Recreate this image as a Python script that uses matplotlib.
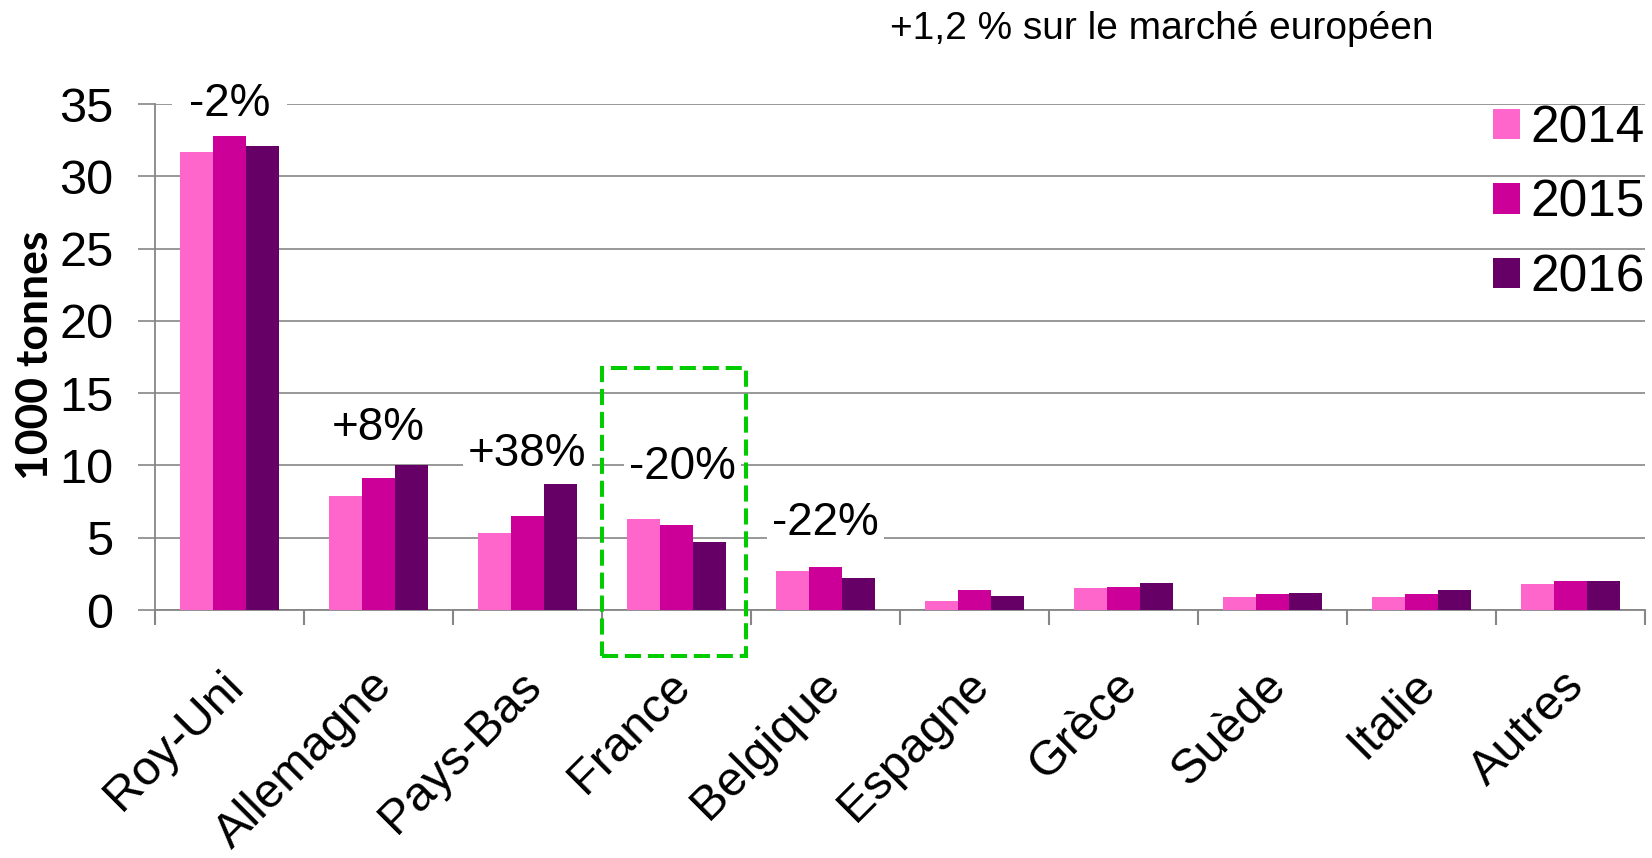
import numpy as np
import matplotlib
matplotlib.use("Agg")
import matplotlib.pyplot as plt
from matplotlib.patches import Rectangle
from matplotlib.transforms import ScaledTranslation

plt.rcParams['font.family'] = ['Liberation Sans', 'DejaVu Sans']

# donnees (1000 tonnes)
pays = ["Roy-Uni", "Allemagne", "Pays-Bas", "France", "Belgique",
        "Espagne", "Grèce", "Suède", "Italie", "Autres"]
annees = ["2014", "2015", "2016"]
v2014 = [31.7, 7.9, 5.3, 6.3, 2.7, 0.6, 1.5, 0.9, 0.9, 1.8]
v2015 = [32.8, 9.1, 6.5, 5.9, 3.0, 1.4, 1.6, 1.1, 1.1, 2.0]
v2016 = [32.1, 10.0, 8.7, 4.7, 2.2, 1.0, 1.9, 1.2, 1.4, 2.0]
evol = ["-2%", "+8%", "+38%", "-20%", "-22%"]
evol_y = [35.0, 12.6, 10.8, 9.9, 6.0]
couleurs = ["#FF66CC", "#CC0099", "#660066"]
gris = "#868686"

fig = plt.figure(figsize=(16.52, 8.58), dpi=100)
ax = fig.add_axes([0.0938, 0.289, 0.902, 0.5897])

x = np.arange(len(pays))
w = 0.221
for k, (vals, c, lab) in enumerate(zip([v2014, v2015, v2016], couleurs, annees)):
    ax.bar(x + (k - 1) * w, vals, width=w, color=c, label=lab, zorder=3)

ax.set_xlim(-0.5, len(pays) - 0.5)
ax.set_ylim(0, 35)
ax.set_yticks(np.arange(0, 36, 5))
ax.yaxis.grid(True, color=gris, linewidth=1.2, zorder=0)
for s in ["top", "right"]:
    ax.spines[s].set_visible(False)
for s in ["left", "bottom"]:
    ax.spines[s].set_color(gris)
    ax.spines[s].set_linewidth(1.3)

ax.tick_params(axis="y", length=12, width=1.2, color=gris, labelsize=35, pad=18)
ax.set_xticks(x)
ax.set_xticklabels(pays, rotation=45, ha="right", rotation_mode="anchor", fontsize=35)
ax.tick_params(axis="x", which="major", length=0, pad=38)
ax.set_xticks(np.arange(-0.5, len(pays)), minor=True)
ax.tick_params(axis="x", which="minor", length=11, width=1.5, color=gris)
off = ScaledTranslation(-0.09, 0, fig.dpi_scale_trans)
for t in ax.get_xticklabels():
    t.set_transform(t.get_transform() + off)

# evolutions (boite blanche qui masque la grille, sous les barres)
for i, (txt, yy) in enumerate(zip(evol, evol_y)):
    dx = 0.04 if i == 3 else 0
    p = 12 if i == 0 else 4
    ax.text(i + dx, yy, txt, ha="center", va="center", fontsize=33, zorder=2,
            bbox=dict(facecolor="white", edgecolor="none", pad=p))

# cadre France
i_fr = pays.index("France")
ax.add_patch(Rectangle((i_fr - 0.503, -3.15), 0.97, 19.9, fill=False,
                       edgecolor="#00CC00", linewidth=2.9,
                       linestyle=(0, (4, 1.7)), clip_on=False, zorder=6))

leg = ax.legend(loc="upper right", bbox_to_anchor=(1.0, 1.0), frameon=False,
                fontsize=37, handlelength=0.525, handleheight=0.525,
                handletextpad=0.2, labelspacing=0.5, borderaxespad=0.0,
                borderpad=0.0)

fig.text(0.0212, 0.586, "1000 tonnes", rotation=90, ha="center", va="center",
         fontsize=32, fontweight="bold", family=["Lato", "DejaVu Sans"])
fig.text(0.703, 0.966, "+1,2 % sur le marché européen", ha="center", va="center",
         fontsize=28)

fig.savefig("out.png", dpi=100)
